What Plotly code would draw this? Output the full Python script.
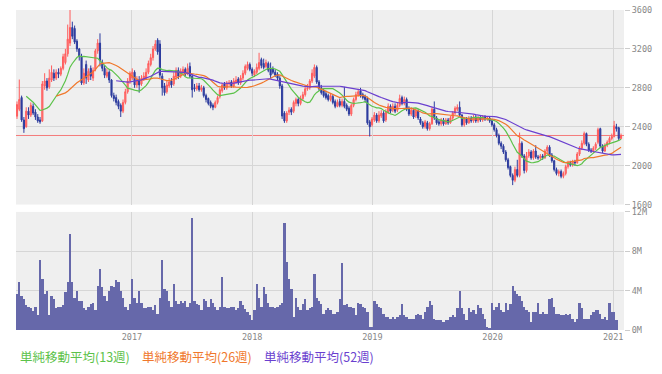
import pandas as pd
import plotly.graph_objects as go

# ---- data (weekly, first visible week = 2016-01-18) ----
pre_close = [2760, 2820, 2900, 2870, 2850, 2790, 2780, 2790]  # weeks before visible range (for moving averages)

opens = [
    2508,2580,2700,2470,2400,2560,2520,2610,2550,2500,
    2470,2460,2820,2870,2810,2880,2950,2900,2960,2940,
    3000,3060,3150,3260,3420,3410,3280,3200,3120,2850,
    3040,2880,3000,2900,2990,3180,3260,3060,3000,2920,
    2960,2880,2720,2700,2660,2620,2560,2650,2760,2870,
    2900,2960,2830,2880,2840,2890,2900,2960,3040,3110,
    3200,3290,3250,2920,2820,2760,2820,2870,2840,2910,
    2980,2920,2960,2990,2950,3020,2920,2800,2790,2820,
    2780,2800,2720,2690,2650,2620,2600,2650,2710,2770,
    2840,2800,2840,2860,2820,2860,2890,2850,2900,2950,
    3000,3040,2990,2930,2960,3000,3090,3050,3020,3050,
    3000,2990,2960,2940,2900,2820,2540,2460,2550,2580,
    2560,2640,2680,2640,2690,2730,2790,2800,2870,2920,
    3010,2860,2800,2770,2740,2720,2680,2710,2660,2610,
    2660,2620,2660,2620,2590,2530,2620,2680,2730,2770,
    2730,2710,2690,2450,2420,2470,2520,2460,2510,2540,
    2470,2550,2610,2570,2610,2570,2620,2700,2640,2680,
    2590,2530,2570,2510,2560,2480,2440,2400,2440,2380,
    2430,2580,2490,2450,2430,2470,2430,2470,2440,2490,
    2540,2580,2600,2520,2420,2480,2440,2490,2460,2500,
    2460,2490,2470,2500,2480,2490,2460,2420,2370,2310,
    2230,2200,2140,2060,1990,1900,1850,1960,1900,2230,
    2100,1950,2100,2140,2080,2150,2090,2080,2100,2080,
    2150,2190,2110,2050,1960,1920,1940,1890,1920,1990,
    2030,2010,2040,2030,2120,2180,2230,2330,2220,2160,
    2150,2180,2240,2380,2200,2150,2210,2240,2280,2300,
    2400,2390,2280,
]
highs = [
    2660,2885,2720,2500,2600,2600,2650,2640,2580,2530,
    2500,2870,2950,2900,2990,3030,2990,2990,3000,3020,
    3150,3200,3450,3600,3480,3440,3300,3210,3150,3000,
    3080,3000,3030,3010,3200,3300,3360,3090,3030,3000,
    2980,2890,2750,2730,2680,2640,2680,2790,2900,2970,
    3000,2980,2920,2920,2930,2960,3000,3080,3150,3230,
    3290,3310,3290,2950,2850,2870,2900,2900,2960,3010,
    3010,3000,3020,3010,3050,3060,2940,2840,2850,2850,
    2830,2820,2740,2700,2670,2640,2670,2720,2800,2850,
    2860,2870,2880,2880,2900,2920,2910,2930,2980,3040,
    3070,3060,3010,2990,3050,3160,3110,3100,3090,3070,
    3060,3020,2990,2960,2920,2840,2560,2560,2600,2600,
    2670,2700,2700,2720,2760,2820,2840,2890,2990,3040,
    3030,2880,2830,2790,2770,2740,2740,2730,2680,2680,
    2690,2690,2810,2640,2610,2640,2700,2760,2790,2800,
    2750,2730,2710,2470,2500,2550,2540,2560,2570,2560,
    2580,2640,2630,2640,2640,2650,2730,2720,2710,2700,
    2610,2600,2590,2590,2580,2500,2460,2470,2460,2450,
    2600,2660,2510,2480,2490,2490,2490,2490,2510,2560,
    2610,2630,2660,2530,2500,2500,2510,2510,2520,2520,
    2510,2510,2520,2520,2510,2510,2480,2440,2390,2330,
    2250,2220,2160,2080,2000,1920,1990,2060,2340,2250,
    2120,2140,2170,2160,2170,2210,2110,2120,2120,2170,
    2210,2210,2130,2060,1980,1960,1960,1940,2010,2050,
    2050,2060,2060,2140,2200,2260,2350,2340,2240,2180,
    2200,2240,2390,2390,2220,2230,2260,2300,2330,2460,
    2430,2400,2330,
]
lows = [
    2480,2560,2450,2337,2390,2480,2500,2520,2470,2440,
    2430,2450,2780,2770,2790,2860,2870,2880,2900,2920,
    2980,3040,3120,3230,3300,3250,3170,3080,2830,2830,
    2840,2860,2880,2870,2970,3150,3020,2970,2900,2900,
    2850,2700,2660,2620,2580,2500,2540,2630,2740,2840,
    2880,2800,2800,2750,2820,2870,2880,2940,3020,3080,
    3180,3140,2900,2720,2720,2740,2800,2800,2820,2880,
    2890,2900,2940,2920,2930,2900,2700,2760,2770,2760,
    2760,2700,2650,2620,2590,2570,2590,2630,2690,2750,
    2780,2780,2820,2800,2800,2840,2830,2830,2880,2930,
    2980,2970,2920,2910,2940,2980,3000,2990,3000,2960,
    2900,2940,2910,2880,2790,2480,2440,2440,2520,2520,
    2540,2610,2610,2620,2670,2710,2770,2780,2850,2900,
    2840,2770,2730,2700,2680,2660,2660,2630,2590,2600,
    2600,2600,2590,2560,2510,2510,2600,2660,2710,2700,
    2680,2650,2420,2300,2400,2450,2440,2440,2490,2440,
    2450,2530,2540,2550,2540,2550,2600,2620,2620,2560,
    2510,2510,2480,2490,2470,2420,2380,2380,2360,2360,
    2420,2470,2420,2410,2410,2410,2420,2420,2430,2470,
    2520,2560,2500,2400,2400,2420,2430,2440,2440,2440,
    2440,2450,2450,2460,2460,2440,2400,2350,2290,2210,
    2170,2120,2040,1960,1880,1800,1830,1880,1880,2080,
    1920,1930,2080,2060,2060,2070,2060,2060,2060,2070,
    2130,2090,2030,1940,1900,1890,1870,1870,1900,1970,
    1990,1990,2000,2020,2100,2160,2210,2200,2140,2130,
    2130,2160,2220,2180,2130,2140,2190,2220,2260,2290,
    2350,2260,2270,
]
closes = [
    2628,2680,2470,2380,2560,2520,2620,2540,2500,2460,
    2450,2840,2870,2800,2900,2960,2900,2960,2940,3000,
    3120,3150,3300,3420,3330,3270,3200,3120,2850,2950,
    2900,2970,2920,2980,3180,3260,3080,3000,2930,2960,
    2880,2720,2690,2650,2610,2560,2650,2760,2870,2950,
    2960,2830,2890,2830,2900,2920,2960,3050,3110,3200,
    3250,3170,2930,2800,2750,2830,2860,2830,2920,2980,
    2920,2970,2990,2940,3000,2920,2780,2790,2820,2780,
    2800,2720,2680,2640,2610,2600,2650,2700,2780,2830,
    2800,2850,2850,2820,2870,2880,2850,2900,2950,3020,
    3040,2990,2950,2970,3010,3060,3030,3010,3060,2980,
    2930,2960,2930,2900,2820,2510,2460,2540,2570,2550,
    2650,2680,2640,2690,2730,2790,2800,2870,2950,3010,
    2860,2790,2750,2720,2700,2680,2720,2650,2610,2650,
    2620,2660,2610,2580,2530,2620,2680,2730,2760,2720,
    2700,2680,2440,2400,2480,2520,2460,2520,2540,2460,
    2550,2610,2560,2610,2560,2620,2690,2640,2680,2580,
    2530,2570,2500,2560,2490,2440,2400,2450,2380,2430,
    2580,2490,2440,2430,2470,2430,2470,2440,2490,2540,
    2590,2600,2520,2420,2480,2440,2490,2460,2500,2460,
    2490,2470,2500,2480,2490,2460,2420,2370,2310,2230,
    2200,2140,2060,1980,1900,1850,1960,1900,2230,2100,
    1950,2100,2140,2080,2150,2090,2080,2100,2080,2150,
    2190,2110,2050,1960,1920,1940,1890,1920,1990,2030,
    2010,2040,2030,2120,2180,2230,2330,2220,2160,2150,
    2180,2220,2370,2200,2150,2210,2240,2280,2300,2410,
    2380,2280,2310,
]
volume_m = [
    3.7,4.9,3.5,3.2,2.5,2.3,2.2,1.9,2.3,1.5,
    7.1,5.2,3.7,4.0,1.5,3.5,3.2,2.2,2.3,2.3,
    2.5,3.9,4.9,9.8,4.9,3.3,4.0,3.0,3.0,2.2,
    2.0,2.3,2.7,2.8,2.0,4.5,6.2,4.4,3.5,3.0,
    4.0,4.5,4.4,5.1,4.9,4.0,3.3,2.3,2.0,2.7,
    5.2,3.3,2.8,4.0,2.8,2.2,2.2,2.3,2.3,2.0,
    2.5,1.6,3.3,7.1,4.2,4.0,3.0,2.3,4.7,3.0,
    2.7,3.0,2.8,3.0,2.3,2.8,11.4,3.0,2.7,2.5,
    2.0,3.2,3.0,2.3,3.2,2.8,2.3,2.0,2.3,5.4,
    2.3,2.2,2.2,2.3,2.3,2.0,2.2,3.0,2.5,2.1,
    1.8,1.5,1.0,2.0,4.7,3.3,2.3,4.4,3.7,2.8,
    2.3,2.3,2.2,2.3,2.5,2.8,10.9,6.9,5.2,4.2,
    1.3,3.3,2.3,2.0,2.7,3.2,2.0,2.2,2.3,5.7,
    3.3,3.0,2.7,1.6,2.0,2.2,
    2.0,1.6,1.6,1.8,3.2,6.8,2.5,2.7,2.3,2.3,
    2.2,1.5,2.8,2.7,2.3,2.2,1.8,0.3,0.3,3.0,
    2.7,2.3,2.2,1.6,1.3,1.3,1.1,1.3,1.1,1.3,
    1.5,2.7,1.5,1.3,1.1,1.1,1.1,1.5,1.6,1.5,
    1.1,1.8,2.3,3.0,2.5,1.1,1.0,1.0,1.0,0.8,
    1.0,1.0,1.3,1.5,1.3,2.2,4.0,2.2,1.6,1.0,
    2.2,1.8,2.0,1.6,2.5,2.2,1.6,1.1,0.3,0.2,
    2.8,2.0,2.3,2.8,2.0,1.8,2.8,2.0,2.7,4.5,
    4.0,3.7,3.5,3.0,2.3,2.0,1.8,0.8,1.8,1.8,
    2.8,1.6,1.8,1.6,1.6,3.2,3.3,2.3,1.6,1.6,
    1.5,1.5,1.6,1.5,1.6,1.1,0.8,1.1,2.8,2.2,
    1.1,1.1,1.1,1.5,1.8,2.0,2.0,1.6,1.1,1.3,
    1.0,2.8,1.8,1.8,1.0,
]
current_price = 2310
year_ticks = ["2017-01-01", "2018-01-01", "2019-01-01", "2020-01-01", "2021-01-01"]
year_labels = ["2017", "2018", "2019", "2020", "2021"]
ma_periods = [13, 26, 52]
ma_colors = ["#5cc24a", "#f0782c", "#6a3fcf"]
ma_labels = ["単純移動平均(13週)", "単純移動平均(26週)", "単純移動平均(52週)"]

# ---- build ----
dates = pd.date_range("2016-01-18", periods=len(closes), freq="W-MON")
pre_dates = pd.date_range(end=dates[0] - pd.Timedelta(days=7), periods=len(pre_close), freq="W-MON")
all_dates = pre_dates.append(dates)
all_close = pd.Series(pre_close + closes, index=all_dates)
vol_dates = pd.date_range("2016-01-18", periods=len(volume_m), freq="W-MON")

fig = go.Figure()
fig.add_trace(go.Candlestick(
    x=dates, open=opens, high=highs, low=lows, close=closes,
    increasing=dict(line=dict(color="#ff5c5c", width=1), fillcolor="#ff8080"),
    decreasing=dict(line=dict(color="#2d3c9e", width=1), fillcolor="#2d3c9e"),
    whiskerwidth=0, showlegend=False, xaxis="x", yaxis="y", hoverinfo="skip"))
for p, c in zip(ma_periods, ma_colors):
    sma = all_close.rolling(p).mean()
    fig.add_trace(go.Scatter(x=all_dates, y=sma.values, mode="lines",
                             line=dict(color=c, width=1.2), showlegend=False,
                             xaxis="x", yaxis="y", hoverinfo="skip"))
fig.add_trace(go.Bar(x=vol_dates, y=[v * 1e6 for v in volume_m], marker=dict(color="#6668aa", line=dict(width=0)),
                     showlegend=False, xaxis="x2", yaxis="y2", hoverinfo="skip"))

xr = ["2016-01-15", "2021-02-03"]
tickfont = dict(family="DejaVu Sans Mono", size=8.5, color="#888888")
grid = "#d6d6d6"
fig.update_layout(
    width=662, height=374,
    margin=dict(l=16, r=38, t=10, b=44, autoexpand=False),
    paper_bgcolor="white", plot_bgcolor="#efefef",
    bargap=0,
    xaxis=dict(domain=[0, 1], anchor="y", range=xr, rangeslider=dict(visible=False),
               tickvals=year_ticks, showticklabels=False, showgrid=True, gridcolor=grid,
               zeroline=False, showline=False, automargin=False),
    xaxis2=dict(domain=[0, 1], anchor="y2", range=xr, tickvals=year_ticks, ticktext=year_labels,
                showgrid=True, gridcolor=grid, tickfont=tickfont, zeroline=False, showline=False,
                ticks="", automargin=False),
    yaxis=dict(domain=[0.392, 1], side="right", range=[1600, 3600], tickvals=[1600, 2000, 2400, 2800, 3200, 3600],
               showgrid=True, gridcolor=grid, ticks="outside", ticklen=5, tickcolor="#cccccc",
               tickfont=tickfont, zeroline=False, automargin=False),
    yaxis2=dict(domain=[0, 0.369], side="right", range=[0, 12e6], tickvals=[0, 4e6, 8e6, 12e6],
                ticktext=["0M", "4M", "8M", "12M"], showgrid=True, gridcolor=grid, ticks="outside",
                ticklen=5, tickcolor="#cccccc", tickfont=tickfont, zeroline=False, automargin=False),
    shapes=[dict(type="line", xref="paper", x0=0, x1=1, yref="y", y0=current_price, y1=current_price,
                 line=dict(color="#f47c7c", width=1), layer="below")],
)
xs = [0.0033, 0.204, 0.405]
for x, lab, c in zip(xs, ma_labels, ma_colors):
    fig.add_annotation(text=lab, xref="paper", yref="paper", x=x, y=-0.084, xanchor="left", yanchor="middle",
                       showarrow=False, font=dict(family="Noto Sans CJK JP", size=12.5, color=c))

fig.write_html("out.html", config={"displayModeBar": False},
               post_script="document.body.style.margin='0';document.body.style.padding='0';")
